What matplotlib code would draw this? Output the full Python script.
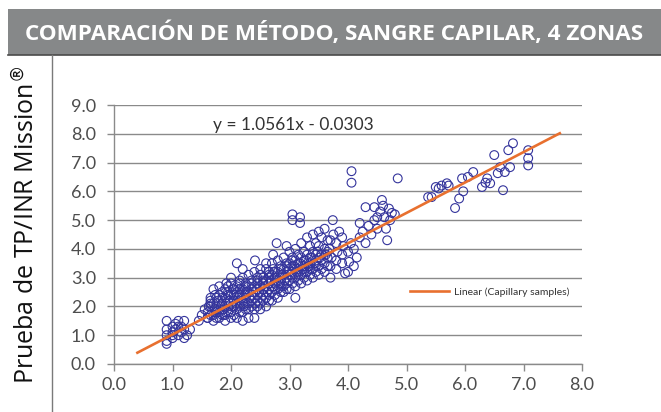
import matplotlib.pyplot as plt
from matplotlib.lines import Line2D
from matplotlib.patches import Rectangle

# reference method INR (x) vs Mission INR (y)
ref_inr = [
    # low cluster around 1.0
    0.9, 0.9, 0.9, 0.9, 0.9, 1.0, 1.0, 1.0, 1.05, 1.1, 1.1, 1.15, 1.2, 1.2, 1.2,
    1.1, 1.05, 1.15, 1.25, 1.0, 1.3,
    1.45, 1.5, 1.6, 1.55, 1.65,
    # 1.6 - 2.3
    1.6, 1.6, 1.62, 1.65,
    1.7, 1.7, 1.72, 1.7, 1.73, 1.7,
    1.8, 1.8, 1.82, 1.78, 1.8, 1.85, 1.8,
    1.9, 1.9, 1.88, 1.92, 1.9, 1.95, 1.9, 1.92,
    2.0, 2.0, 2.02, 1.98, 2.0, 2.03, 2.0, 2.0,
    2.1, 2.1, 2.08, 2.12, 2.1, 2.1, 2.15, 2.1,
    2.2, 2.2, 2.22, 2.2, 2.18, 2.2, 2.25, 2.2, 2.2,
    2.3, 2.3, 2.3, 2.32, 2.28, 2.3, 2.35, 2.3,
    # 2.4 - 3.0
    2.4, 2.4, 2.42, 2.4, 2.38, 2.4, 2.45, 2.4, 2.41,
    2.5, 2.5, 2.52, 2.48, 2.5, 2.55, 2.5, 2.5,
    2.6, 2.6, 2.62, 2.58, 2.6, 2.65, 2.6, 2.6,
    2.7, 2.7, 2.72, 2.68, 2.7, 2.72, 2.7, 2.72,
    2.8, 2.8, 2.82, 2.78, 2.8, 2.85, 2.8, 2.78,
    2.9, 2.9, 2.92, 2.88, 2.9, 2.95, 2.9, 2.95,
    3.0, 3.0, 3.02, 2.98, 3.0, 3.05, 3.0, 3.05, 3.05,
    # 3.1 - 4.0
    3.1, 3.1, 3.12, 3.08, 3.1, 3.15, 3.1, 3.18, 3.18, 3.1,
    3.2, 3.2, 3.22, 3.18, 3.2, 3.25, 3.2,
    3.3, 3.3, 3.32, 3.28, 3.3, 3.35, 3.3,
    3.4, 3.4, 3.42, 3.38, 3.4, 3.45, 3.4,
    3.5, 3.5, 3.52, 3.48, 3.5, 3.55, 3.5,
    3.6, 3.6, 3.62, 3.6, 3.65, 3.6,
    3.7, 3.7, 3.72, 3.68, 3.7, 3.74, 3.75,
    3.8, 3.8, 3.82, 3.8, 3.85,
    3.95, 3.9, 3.9, 3.92, 3.9,
    4.0, 4.0, 4.05, 4.06, 4.06,
    # 4.0 - 4.9
    4.1, 4.15, 4.2, 4.2, 4.25, 4.3, 4.3, 4.35, 4.4, 4.45, 4.45, 4.5, 4.5,
    4.55, 4.58, 4.6, 4.62, 4.65, 4.67, 4.7, 4.72, 4.75, 4.8, 4.85, 4.02, 4.1,
    # 5.3 - 7.1
    5.37, 5.43, 5.5, 5.55, 5.6, 5.69, 5.72, 5.83, 5.9, 5.95, 5.97, 6.05, 6.14,
    6.29, 6.38, 6.43, 6.5, 6.56, 6.6, 6.65, 6.68, 6.74, 6.77, 6.82, 7.08, 7.08,
    7.08, 6.35,
]
mission_inr = [
    1.5, 1.2, 1.0, 0.8, 0.7, 1.1, 1.3, 0.9, 1.2, 1.0, 1.3, 1.1, 1.5, 1.2, 0.9,
    1.5, 1.4, 1.3, 1.0, 1.0, 1.2,
    1.5, 1.7, 1.6, 1.9, 2.1,
    1.6, 1.8, 2.0, 2.3,
    1.5, 1.7, 1.9, 2.1, 2.4, 2.6,
    1.6, 1.8, 2.0, 2.2, 2.4, 2.5, 2.7,
    1.5, 1.7, 1.9, 2.1, 2.3, 2.5, 2.6, 2.8,
    1.6, 1.8, 2.0, 2.2, 2.4, 2.6, 2.8, 3.0,
    1.6, 1.9, 2.1, 2.3, 2.5, 2.7, 2.9, 3.5,
    1.5, 1.8, 2.0, 2.2, 2.4, 2.6, 2.8, 3.0, 3.3,
    1.6, 1.9, 2.1, 2.3, 2.5, 2.7, 2.9, 3.1,
    1.6, 1.9, 2.1, 2.3, 2.5, 2.7, 2.9, 3.2, 3.6,
    1.9, 2.1, 2.3, 2.5, 2.7, 2.9, 3.1, 3.3,
    2.0, 2.3, 2.5, 2.7, 2.9, 3.1, 3.3, 3.5,
    2.2, 2.5, 2.7, 2.9, 3.1, 3.3, 3.5, 3.8,
    2.3, 2.6, 2.8, 3.0, 3.2, 3.4, 3.6, 4.2,
    2.5, 2.7, 2.9, 3.1, 3.3, 3.5, 3.7, 4.1,
    2.6, 2.9, 3.1, 3.3, 3.5, 3.7, 3.9, 5.0, 5.2,
    2.7, 3.0, 3.2, 3.4, 3.6, 3.8, 4.0, 5.1, 4.9, 2.3,
    2.8, 3.1, 3.3, 3.5, 3.7, 3.9, 4.2,
    2.9, 3.2, 3.4, 3.6, 3.8, 4.1, 4.4,
    3.0, 3.3, 3.5, 3.7, 3.9, 4.2, 4.5,
    3.1, 3.4, 3.7, 3.9, 4.1, 4.4, 4.6,
    3.2, 3.5, 3.8, 4.0, 4.3, 4.7,
    3.0, 3.4, 3.7, 4.0, 4.3, 5.0, 4.5,
    3.3, 3.6, 3.9, 4.2, 4.6,
    3.15, 3.5, 3.8, 4.1, 4.4,
    3.2, 3.9, 4.2, 6.7, 6.3,
    4.0, 3.7, 4.9, 4.4, 4.6, 5.45, 4.2, 4.8, 4.5, 5.45, 5.0, 5.1, 4.7,
    5.3, 5.7, 5.5, 5.1, 4.7, 4.3, 5.4, 5.0, 5.25, 5.2, 6.45, 3.55, 3.4,
    5.8, 5.8, 6.15, 6.1, 6.2, 6.28, 6.2, 5.42, 5.75, 6.45, 6.0, 6.5, 6.67,
    6.15, 6.45, 6.28, 7.26, 6.63, 6.84, 6.04, 6.67, 7.43, 6.84, 7.67, 7.43, 7.15,
    6.9, 6.3,
]

# extra points filling the dense band between 1.6 and 3.7
ref_inr_dense = [
    1.65, 1.65, 1.65,
    1.75, 1.75, 1.75, 1.75,
    1.85, 1.85, 1.85, 1.85,
    1.95, 1.95, 1.95, 1.95, 1.95,
    2.05, 2.05, 2.05, 2.05, 2.05,
    2.15, 2.15, 2.15, 2.15, 2.15, 2.15,
    2.25, 2.25, 2.25, 2.25, 2.25,
    2.35, 2.35, 2.35, 2.35, 2.35,
    2.45, 2.45, 2.45, 2.45, 2.45, 2.45,
    2.55, 2.55, 2.55, 2.55, 2.55,
    2.65, 2.65, 2.65, 2.65, 2.65, 2.65,
    2.75, 2.75, 2.75, 2.75, 2.75,
    2.85, 2.85, 2.85, 2.85, 2.85,
    2.95, 2.95, 2.95, 2.95, 2.95,
    3.05, 3.05, 3.05, 3.05, 3.05,
    3.15, 3.15, 3.15, 3.15,
    3.25, 3.25, 3.25, 3.25,
    3.35, 3.35, 3.35, 3.35,
    3.45, 3.45, 3.45, 3.45,
    3.55, 3.55, 3.55,
    3.65, 3.65, 3.65,
]
mission_inr_dense = [
    1.7, 2.0, 2.2,
    1.6, 1.8, 2.0, 2.3,
    1.7, 1.9, 2.1, 2.3,
    1.8, 2.0, 2.2, 2.4, 2.7,
    1.7, 2.0, 2.2, 2.4, 2.6,
    1.8, 2.0, 2.2, 2.4, 2.6, 2.8,
    1.9, 2.1, 2.3, 2.5, 2.7,
    2.0, 2.2, 2.4, 2.6, 2.8,
    2.0, 2.2, 2.4, 2.6, 2.8, 3.0,
    2.2, 2.4, 2.6, 2.8, 3.0,
    2.2, 2.4, 2.6, 2.8, 3.0, 3.2,
    2.4, 2.6, 2.8, 3.0, 3.2,
    2.5, 2.7, 2.9, 3.1, 3.3,
    2.6, 2.8, 3.0, 3.2, 3.4,
    2.8, 3.0, 3.2, 3.4, 3.6,
    2.9, 3.1, 3.3, 3.5,
    3.0, 3.2, 3.4, 3.6,
    3.1, 3.3, 3.5, 3.7,
    3.2, 3.4, 3.6, 3.8,
    3.3, 3.6, 3.8,
    3.4, 3.7, 3.9,
]

slope = 1.0561
intercept = -0.0303
trend_x = [0.4, 7.62]
trend_y = [slope * v + intercept for v in trend_x]

title = "COMPARACIÓN DE MÉTODO, SANGRE CAPILAR, 4 ZONAS"
y_label = "Prueba de TP/INR Mission$^{®}$"
x_ticks = [0, 1, 2, 3, 4, 5, 6, 7, 8]
y_ticks = [0, 1, 2, 3, 4, 5, 6, 7, 8, 9]

W, H = 661, 412
fig = plt.figure(figsize=(W / 100, H / 100), dpi=100)

# grey title banner
fig.patches.append(Rectangle((8 / W, 1 - 55 / H), 1 - 8 / W, 46 / H,
                             transform=fig.transFigure, facecolor="#868889",
                             edgecolor="none"))
fig.lines.append(Line2D([8 / W, 1], [1 - 55 / H, 1 - 55 / H], transform=fig.transFigure,
                        color="#4a4a4a", lw=1.2))
fig.lines.append(Line2D([52 / W, 52 / W], [0, 1 - 55 / H], transform=fig.transFigure,
                        color="#7a7a7a", lw=1.0))
fig.text(25 / W, 1 - 33 / H, title, color="white", fontsize=16.2, fontweight="bold",
         family="Open Sans", va="center", ha="left")
fig.text(27 / W, 1 - 225 / H, y_label, rotation=90, fontsize=18, family="Open Sans",
         color="#111111", va="center", ha="center")

ax = fig.add_axes([114 / W, 1 - 364 / H, 468 / W, 259 / H])
ax.scatter(ref_inr + ref_inr_dense, mission_inr + mission_inr_dense, s=40,
           facecolors="none", edgecolors="#34349c", linewidths=0.8, zorder=3)
ax.plot(trend_x, trend_y, color="#e8702f", lw=1.9, zorder=4,
        label="Linear (Capillary samples)")

ax.set_xlim(0, 8)
ax.set_ylim(0, 9)
ax.set_xticks(x_ticks)
ax.set_yticks(y_ticks)
ax.set_xticklabels([f"{v:.1f}" for v in x_ticks])
ax.set_yticklabels([f"{v:.1f}" for v in y_ticks])
ax.tick_params(direction="out", length=5, width=1, color="#8a8a8a", labelcolor="#4d4d4d",
               labelsize=13)
ax.tick_params(axis="y", pad=8)
ax.tick_params(axis="x", pad=4)
for lab in ax.get_xticklabels() + ax.get_yticklabels():
    lab.set_family("Lato")
ax.grid(axis="y", color="#8a8a8a", lw=1.0, zorder=0)
ax.set_axisbelow(True)
for side in ["top", "right"]:
    ax.spines[side].set_visible(False)
for side in ["left", "bottom"]:
    ax.spines[side].set_color("#8a8a8a")
    ax.spines[side].set_linewidth(1.0)

ax.text(1.69, 8.3, f"y = {slope}x - {abs(intercept):.4f}", fontsize=12.5, family="Lato",
        color="#333333", va="center", ha="left")
ax.legend(loc="center left", bbox_to_anchor=(0.632, 0.278), frameon=False,
          handlelength=3.8, handletextpad=0.4, borderaxespad=0, borderpad=0,
          prop={"family": "Lato", "size": 7.5}, labelcolor="#333333")

fig.savefig("out.png", dpi=100)
